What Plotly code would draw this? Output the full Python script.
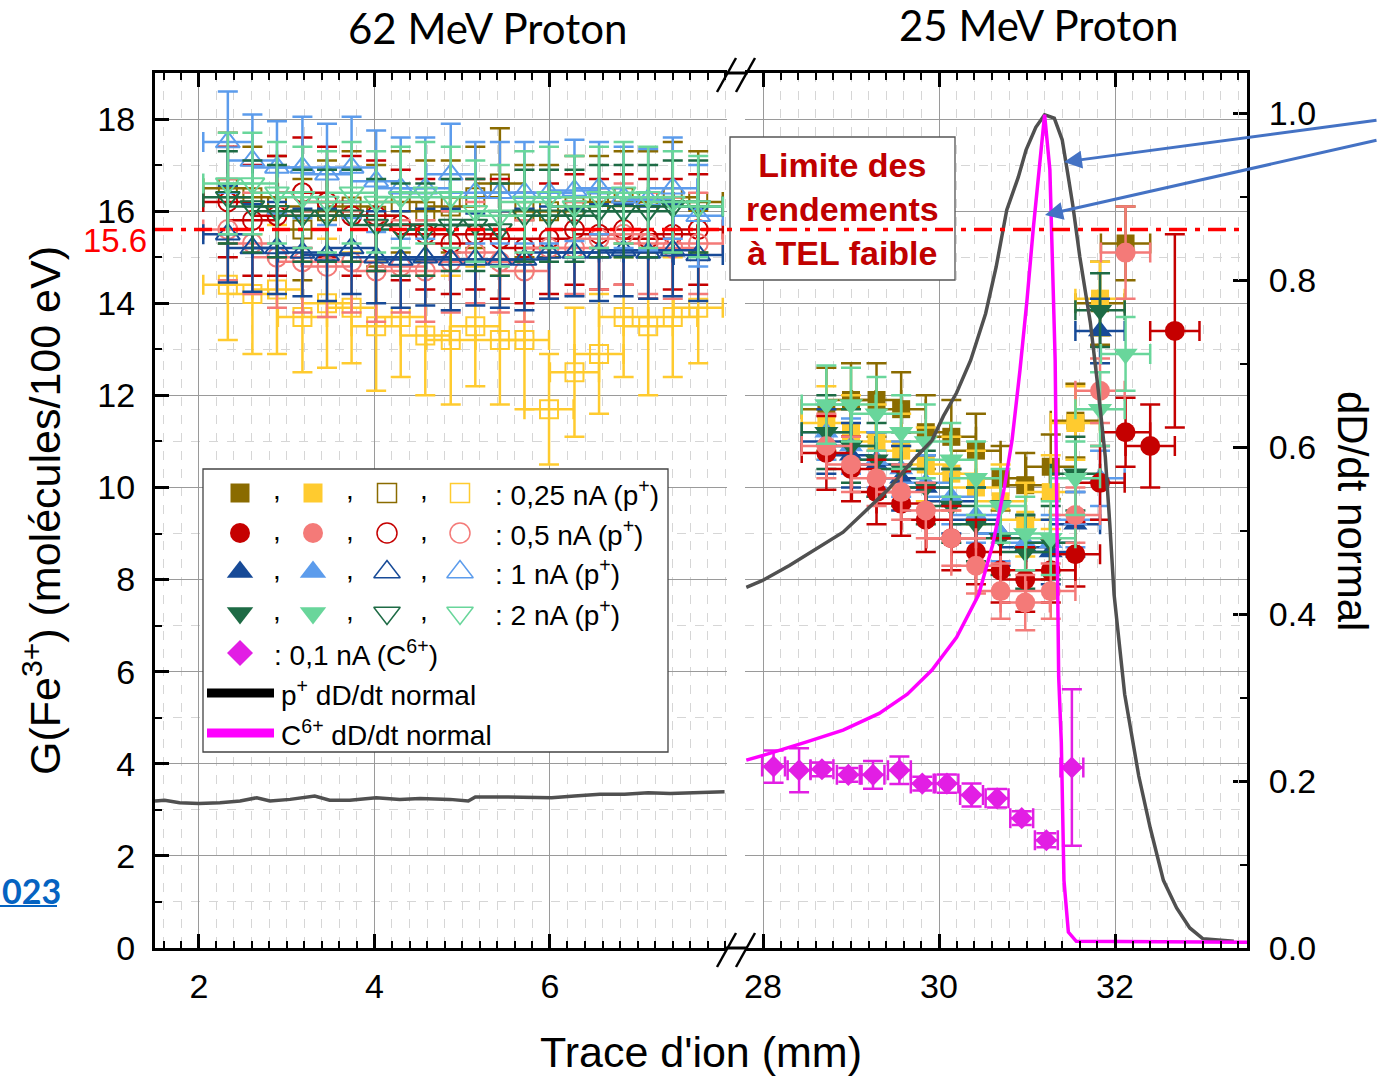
import plotly.graph_objects as go

# ------------------------------------------------------------------ data
# 62 MeV proton run (open markers) : track positions (mm)
X_L = [2.33, 2.61, 2.89, 3.18, 3.46, 3.74, 4.02, 4.30, 4.58, 4.87,
       5.15, 5.43, 5.71, 5.99, 6.28, 6.56, 6.84, 7.12, 7.40, 7.69]
G_L_025a = [16.5, 16.3, 16.1, 15.6, 16.0, 16.1, 15.9, 16.2, 16.0, 16.1,
            16.3, 16.6, 16.0, 16.0, 16.1, 16.2, 16.3, 16.2, 16.3, 16.2]
E_L_025a = [1.2, 1.1, 1.1, 1.1, 1.1, 1.2, 1.1, 1.1, 1.1, 1.0,
            1.1, 1.2, 1.0, 1.0, 1.1, 1.0, 1.0, 1.1, 1.2, 1.1]
G_L_025b = [14.4, 14.2, 14.3, 13.7, 14.0, 13.9, 13.5, 13.7, 13.3, 13.2,
            13.5, 13.2, 13.2, 11.7, 12.5, 12.9, 13.7, 13.5, 13.7, 13.9]
E_L_025b = [1.2, 1.3, 1.4, 1.2, 1.4, 1.2, 1.4, 1.3, 1.3, 1.4,
            1.3, 1.4, 1.5, 1.2, 1.4, 1.3, 1.3, 1.5, 1.3, 1.2]
G_L_05a = [16.2, 15.8, 15.9, 16.4, 16.2, 15.9, 15.9, 15.7, 15.5, 15.3,
           15.5, 15.4, 15.2, 15.4, 15.6, 15.5, 15.6, 15.4, 15.5, 15.6]
E_L_05a = [1.2, 1.2, 1.3, 1.2, 1.2, 1.3, 1.2, 1.2, 1.2, 1.1,
           1.2, 1.3, 1.2, 1.2, 1.2, 1.2, 1.2, 1.3, 1.2, 1.2]
G_L_05b = [15.6, 15.3, 15.0, 14.9, 14.8, 14.9, 14.7, 14.8, 14.7, 14.9,
           15.1, 14.9, 14.7, 15.2, 15.2, 15.4, 15.5, 15.3, 15.2, 15.3]
E_L_05b = [1.1, 1.1, 1.1, 1.1, 1.1, 1.1, 1.1, 1.0, 1.1, 1.1,
           1.1, 1.1, 1.1, 1.1, 1.0, 1.1, 1.1, 1.1, 1.1, 1.1]
G_L_1a = [15.5, 15.2, 15.2, 15.1, 15.05, 15.2, 15.0, 14.95, 15.0, 14.95,
          14.95, 14.95, 14.95, 15.1, 15.1, 15.1, 15.15, 15.1, 15.15, 15.05]
E_L_1a = [1.05, 0.95, 1.0, 0.95, 1.0, 1.0, 1.0, 1.05, 1.05, 1.1,
          1.0, 1.05, 1.1, 1.0, 0.95, 1.05, 1.0, 1.0, 1.0, 1.0]
G_L_1b = [17.5, 17.1, 16.95, 16.95, 16.8, 16.95, 16.65, 16.5, 16.5, 16.8,
          16.4, 16.4, 16.4, 16.4, 16.45, 16.5, 16.3, 16.25, 16.5, 15.9]
E_L_1b = [1.1, 1.0, 1.0, 1.1, 1.1, 1.1, 1.1, 1.1, 1.1, 1.1,
          1.1, 1.1, 1.1, 1.1, 1.1, 1.0, 1.1, 1.1, 1.1, 1.1]
G_L_2a = [16.3, 16.1, 16.0, 15.9, 15.9, 15.9, 15.7, 15.6, 15.6, 15.7,
          15.7, 15.6, 15.9, 15.9, 15.9, 16.0, 16.0, 16.0, 16.1, 16.1]
E_L_2a = [1.0, 1.0, 1.0, 1.0, 1.0, 1.0, 1.0, 1.0, 1.0, 1.0,
          1.0, 1.0, 1.0, 1.0, 1.0, 1.0, 1.0, 1.0, 1.0, 1.0]
G_L_2b = [16.6, 16.6, 16.4, 16.3, 16.2, 16.4, 16.2, 16.3, 16.4, 16.3,
          16.0, 15.9, 16.2, 16.3, 16.1, 16.3, 16.4, 16.3, 16.2, 16.1]
E_L_2b = [1.1, 1.1, 1.1, 1.1, 1.1, 1.1, 1.1, 1.1, 1.1, 1.1,
          1.1, 1.1, 1.1, 1.1, 1.1, 1.1, 1.1, 1.1, 1.1, 1.1]

# 25 MeV proton run (filled markers)
X_R = [28.72, 29.00, 29.29, 29.57, 29.85, 30.14, 30.42, 30.70, 30.98, 31.27,
       31.55, 31.83, 32.12, 32.40, 32.68]
G_R_025a = [11.7, 11.9, 11.9, 11.7, 11.2, 11.1, 10.8, 10.2, 10.05, 10.45, 11.45, 14.0, 15.3]
E_R_025a = [0.9, 0.8, 0.8, 0.8, 0.8, 0.8, 0.8, 0.7, 0.7, 0.7, 0.8, 0.9, 0.8]
G_R_025b = [11.4, 11.2, 11.0, 10.8, 10.5, 10.3, 10.0, 9.7, 9.3, 9.9, 11.4, 14.1]
E_R_025b = [0.8, 0.8, 0.8, 0.8, 0.8, 0.8, 0.8, 0.8, 0.8, 0.8, 0.8, 0.8]
G_R_05a = [10.75, 10.4, 9.9, 9.65, 9.3, 8.9, 8.6, 8.2, 8.0, 8.2, 8.55, 10.1, 11.2, 10.9, 13.4]
E_R_05a = [0.8, 0.7, 0.7, 0.7, 0.7, 0.7, 0.7, 0.7, 0.7, 0.7, 0.7, 0.8, 0.75, 0.9, 2.1]
G_R_05b = [10.9, 10.5, 10.2, 9.9, 9.5, 8.9, 8.3, 7.75, 7.5, 7.75, 9.4, 12.1, 15.1]
E_R_05b = [0.7, 0.6, 0.6, 0.6, 0.6, 0.6, 0.6, 0.6, 0.6, 0.6, 0.6, 0.7, 1.0]
G_R_1a = [11.0, 10.7, 10.5, 10.2, 10.0, 9.7, 9.3, 9.0, 8.7, 8.6, 9.2, 13.4]
E_R_1a = [0.7, 0.7, 0.7, 0.7, 0.7, 0.7, 0.7, 0.7, 0.7, 0.7, 0.7, 0.7]
G_R_1b = [11.2, 10.9, 10.6, 10.4, 10.1, 9.8, 9.4, 9.0, 8.8, 8.8, 9.3, 10.2]
E_R_1b = [0.6, 0.6, 0.6, 0.6, 0.6, 0.6, 0.6, 0.6, 0.6, 0.6, 0.6, 0.6]
G_R_2a = [11.2, 10.9, 10.6, 10.4, 10.0, 9.6, 9.2, 8.9, 8.6, 8.8, 10.3, 13.85]
E_R_2a = [0.8, 0.8, 0.8, 0.8, 0.8, 0.8, 0.8, 0.8, 0.8, 0.8, 0.8, 0.8]
G_R_2b = [11.8, 11.8, 11.6, 11.2, 11.0, 10.6, 10.2, 9.6, 9.0, 8.9, 10.2, 11.7, 12.9]
E_R_2b = [0.85, 0.8, 0.8, 0.8, 0.8, 0.8, 0.8, 0.8, 0.8, 0.8, 0.8, 0.8, 0.8]
XERR_P = 0.28

# carbon 0.1 nA (C6+)
X_C = [28.12, 28.41, 28.67, 28.97, 29.25, 29.55, 29.81, 30.09, 30.37, 30.66, 30.94, 31.22, 31.51]
G_C = [3.94, 3.86, 3.88, 3.76, 3.76, 3.86, 3.57, 3.57, 3.32, 3.25, 2.82, 2.34, 3.92]
E_C = [0.35, 0.48, 0.15, 0.15, 0.3, 0.3, 0.15, 0.2, 0.25, 0.2, 0.15, 0.15, 1.7]
XERR_C = 0.13

# normalised dose-rate profiles
XD_L = [1.50, 1.61, 1.78, 2.00, 2.24, 2.47, 2.66, 2.81, 3.04, 3.32, 3.49, 3.72, 4.02, 4.29,
        4.52, 4.86, 5.07, 5.15, 5.43, 5.77, 6.02, 6.28, 6.57, 6.85, 7.12, 7.37, 7.71, 7.99]
DD_L = [0.176, 0.177, 0.174, 0.173, 0.174, 0.176, 0.180, 0.176, 0.178, 0.182, 0.177, 0.177, 0.180, 0.178,
        0.179, 0.178, 0.176, 0.181, 0.181, 0.181, 0.180, 0.182, 0.184, 0.184, 0.186, 0.185, 0.186, 0.187]
XD_R = [27.81, 28.01, 28.30, 28.63, 28.91, 29.15, 29.43, 29.72, 29.92, 30.05,
        30.20, 30.36, 30.53, 30.65, 30.77, 30.90, 30.99, 31.10, 31.20, 31.31,
        31.40, 31.47, 31.52, 31.60, 31.72, 31.81, 31.89, 31.94, 31.99, 32.11,
        32.27, 32.40, 32.55, 32.70, 32.85, 33.00, 33.35]
DD_R = [0.432, 0.441, 0.458, 0.479, 0.498, 0.522, 0.550, 0.586, 0.608, 0.637,
        0.665, 0.704, 0.760, 0.816, 0.884, 0.923, 0.956, 0.983, 0.998, 0.994,
        0.968, 0.923, 0.890, 0.828, 0.749, 0.668, 0.588, 0.509, 0.423, 0.304,
        0.206, 0.144, 0.081, 0.048, 0.024, 0.011, 0.008]
XD_C = [27.81, 28.01, 28.47, 28.91, 29.32, 29.64, 29.92, 30.20, 30.45, 30.61,
        30.74, 30.83, 30.92, 31.00, 31.07, 31.14, 31.20, 31.26, 31.28, 31.32,
        31.33, 31.34, 31.36, 31.39, 31.42, 31.47, 31.56, 33.50]
DD_C = [0.225, 0.231, 0.246, 0.261, 0.281, 0.304, 0.333, 0.372, 0.423, 0.483,
        0.550, 0.608, 0.692, 0.776, 0.860, 0.938, 0.998, 0.932, 0.863, 0.704,
        0.608, 0.483, 0.325, 0.246, 0.081, 0.019, 0.008, 0.007]

LIMIT_G = 15.6
TOP_TITLES = ["62 MeV Proton", "25 MeV Proton"]
LEG_LABELS = [": 0,25 nA (p<sup>+</sup>)", ": 0,5 nA (p<sup>+</sup>)",
              ": 1 nA (p<sup>+</sup>)", ": 2 nA (p<sup>+</sup>)"]
LEG_C = ": 0,1 nA (C<sup>6+</sup>)"
LEG_LINES = ["p<sup>+</sup> dD/dt normal", "C<sup>6+</sup> dD/dt normal"]
BOX_TEXT = "Limite des<br>rendements<br>à TEL faible"

# ------------------------------------------------------------------ style
C_OLIVE, C_YELLOW = '#8A6B00', '#FFCB2F'
C_DRED, C_PINK = '#C50000', '#F47A78'
C_DBLUE, C_LBLUE = '#174A97', '#5C9CEC'
C_DGREEN, C_LGREEN = '#1E6B45', '#69D69B'
C_MAG, C_MAGLINE, C_GRAY = '#E21EE4', '#FF00FF', '#505050'
ARIAL = 'Liberation Sans, Arial, sans-serif'
CALIBRI = 'Lato, Carlito, Calibri, sans-serif'

W, H = 1378, 1076
L, R, T, B = 155, 1247, 73, 948
XL_RANGE = [1.5, 8.018]
XR_RANGE = [27.8, 33.5]
Y_RANGE = [0, 19]
Y2_RANGE = [0, 1.048]


def xp(px):
    return (px - L) / (R - L)


def yp(py):
    return (B - py) / (B - T)


D1 = xp(727)
D2 = xp(745.4)


def xl(px):  # pixel -> left-panel data x
    return XL_RANGE[0] + (px - L) * (XL_RANGE[1] - XL_RANGE[0]) / ((R - L) * D1)


def yl(py):  # pixel -> left y data
    return (B - py) * (Y_RANGE[1] - Y_RANGE[0]) / (B - T)


fig = go.Figure()


def add_series(x, y, ey, ex, symbol, color, xaxis, size):
    n = len(y)
    is_open = symbol.endswith('open')
    fig.add_trace(go.Scatter(
        x=x[:n], y=y, mode='markers', xaxis=xaxis, yaxis='y',
        marker=dict(symbol=symbol, size=size, color=color,
                    line=dict(color=color, width=2 if is_open else 0)),
        error_y=dict(type='data', array=ey, color=color, thickness=2.5, width=10),
        error_x=dict(type='data', array=[ex] * n, color=color, thickness=2.5, width=10),
        showlegend=False, hoverinfo='skip'))


left_series = [
    (G_L_025a, E_L_025a, 'square-open', C_OLIVE, 18),
    (G_L_025b, E_L_025b, 'square-open', C_YELLOW, 18),
    (G_L_05a, E_L_05a, 'circle-open', C_DRED, 19),
    (G_L_05b, E_L_05b, 'circle-open', C_PINK, 19),
    (G_L_1a, E_L_1a, 'triangle-up-open', C_DBLUE, 21),
    (G_L_1b, E_L_1b, 'triangle-up-open', C_LBLUE, 21),
    (G_L_2a, E_L_2a, 'triangle-down-open', C_DGREEN, 21),
    (G_L_2b, E_L_2b, 'triangle-down-open', C_LGREEN, 21),
]
for y, ey, sym, col, sz in left_series:
    add_series(X_L, y, ey, XERR_P, sym, col, 'x', sz)

right_series = [
    (G_R_025a, E_R_025a, 'square', C_OLIVE, 18),
    (G_R_025b, E_R_025b, 'square', C_YELLOW, 18),
    (G_R_1a, E_R_1a, 'triangle-up', C_DBLUE, 21),
    (G_R_1b, E_R_1b, 'triangle-up', C_LBLUE, 21),
    (G_R_2a, E_R_2a, 'triangle-down', C_DGREEN, 21),
    (G_R_05a, E_R_05a, 'circle', C_DRED, 20),
    (G_R_05b, E_R_05b, 'circle', C_PINK, 20),
    (G_R_2b, E_R_2b, 'triangle-down', C_LGREEN, 21),
]
for y, ey, sym, col, sz in right_series:
    add_series(X_R, y, ey, XERR_P, sym, col, 'x2', sz)

add_series(X_C, G_C, E_C, XERR_C, 'diamond', C_MAG, 'x2', 17)

# dose-rate curves on the right axis
fig.add_trace(go.Scatter(x=XD_L, y=DD_L, mode='lines', xaxis='x', yaxis='y2',
                         line=dict(color=C_GRAY, width=3.5), showlegend=False, hoverinfo='skip'))
fig.add_trace(go.Scatter(x=XD_R, y=DD_R, mode='lines', xaxis='x2', yaxis='y2',
                         line=dict(color=C_GRAY, width=3.5), showlegend=False, hoverinfo='skip'))
fig.add_trace(go.Scatter(x=XD_C, y=DD_C, mode='lines', xaxis='x2', yaxis='y2',
                         line=dict(color=C_MAGLINE, width=3.5), showlegend=False, hoverinfo='skip'))

# legend symbols (drawn in left-panel coordinates)
LEG_COLS_PX = [240, 313, 387, 460]
LEG_ROWS_PX = [493, 533, 572, 613, 653, 693, 733]
leg_rows = [
    (['square', 'square', 'square-open', 'square-open'], [C_OLIVE, C_YELLOW, C_OLIVE, C_YELLOW], 19),
    (['circle', 'circle', 'circle-open', 'circle-open'], [C_DRED, C_PINK, C_DRED, C_PINK], 20),
    (['triangle-up', 'triangle-up', 'triangle-up-open', 'triangle-up-open'], [C_DBLUE, C_LBLUE, C_DBLUE, C_LBLUE], 23),
    (['triangle-down', 'triangle-down', 'triangle-down-open', 'triangle-down-open'], [C_DGREEN, C_LGREEN, C_DGREEN, C_LGREEN], 23),
]
for r_i, (syms, cols, sz) in enumerate(leg_rows):
    fig.add_trace(go.Scatter(
        x=[xl(p) for p in LEG_COLS_PX], y=[yl(LEG_ROWS_PX[r_i])] * 4, mode='markers',
        xaxis='x', yaxis='y',
        marker=dict(symbol=syms, size=sz, color=cols,
                    line=dict(color=cols, width=[0, 0, 1.5, 1.5])),
        showlegend=False, hoverinfo='skip'))
fig.add_trace(go.Scatter(
    x=[xl(LEG_COLS_PX[0])], y=[yl(LEG_ROWS_PX[4])], mode='markers', xaxis='x', yaxis='y',
    marker=dict(symbol='diamond', size=20, color=C_MAG), showlegend=False, hoverinfo='skip'))

# ------------------------------------------------------------------ shapes
shapes = []
# legend background box (above grid, below traces)
shapes.append(dict(type='rect', xref='x', yref='y', x0=xl(203), x1=xl(668), y0=yl(752), y1=yl(469),
                   fillcolor='white', line=dict(color='#444', width=1.3), layer='between'))
# text box
shapes.append(dict(type='rect', xref='paper', yref='paper', x0=xp(730), x1=xp(955), y0=yp(280), y1=yp(137),
                   fillcolor='white', line=dict(color='#555', width=1.3), layer='above'))
# low-LET limit
shapes.append(dict(type='line', xref='paper', yref='y', x0=0, x1=1, y0=LIMIT_G, y1=LIMIT_G,
                   line=dict(color='#FF0000', width=3.5, dash='18px,8px,5px,8px'), layer='above'))
# legend lines
for i, col in enumerate(['black', C_MAGLINE]):
    shapes.append(dict(type='line', xref='paper', yref='paper', x0=xp(207), x1=xp(274),
                       y0=yp(LEG_ROWS_PX[5 + i]), y1=yp(LEG_ROWS_PX[5 + i]),
                       line=dict(color=col, width=9), layer='above'))
# axis line across the break
for yy in (0, 1):
    shapes.append(dict(type='line', xref='paper', yref='paper', x0=D1 - 0.002, x1=D2 + 0.002, y0=yy, y1=yy,
                       line=dict(color='black', width=3), layer='above'))
# break marks
for base in (B, T):
    for dx in (0, 19):
        shapes.append(dict(type='line', xref='paper', yref='paper',
                           x0=xp(717 + dx), y0=yp(base + 19), x1=xp(736 + dx), y1=yp(base - 15),
                           line=dict(color='black', width=2.5), layer='above'))
# underline of the cropped link text
shapes.append(dict(type='line', xref='paper', yref='paper', x0=xp(0), x1=xp(57), y0=yp(906), y1=yp(906),
                   line=dict(color='#0563C1', width=2), layer='above'))

# ------------------------------------------------------------------ annotations
ann = []
ann.append(dict(text=TOP_TITLES[0], x=xp(487), y=yp(28), xref='paper', yref='paper', showarrow=False,
                font=dict(family=CALIBRI, size=42, color='black'), xanchor='center', yanchor='middle'))
ann.append(dict(text=TOP_TITLES[1], x=xp(1038), y=yp(25), xref='paper', yref='paper', showarrow=False,
                font=dict(family=CALIBRI, size=42, color='black'), xanchor='center', yanchor='middle'))
ann.append(dict(text="Trace d'ion (mm)", x=xp(701), y=yp(1052), xref='paper', yref='paper', showarrow=False,
                font=dict(family=ARIAL, size=43, color='black'), xanchor='center', yanchor='middle'))
ann.append(dict(text="G(Fe<sup>3+</sup>) (molécules/100 eV)", x=xp(42), y=yp(511), xref='paper', yref='paper',
                showarrow=False, textangle=-90, font=dict(family=ARIAL, size=43, color='black'),
                xanchor='center', yanchor='middle'))
ann.append(dict(text="dD/dt normal", x=xp(1353), y=yp(511), xref='paper', yref='paper',
                showarrow=False, textangle=90, font=dict(family=ARIAL, size=42, color='black'),
                xanchor='center', yanchor='middle'))
ann.append(dict(text=str(LIMIT_G), x=xp(149), y=yp(241), xref='paper', yref='paper', showarrow=False,
                font=dict(family=ARIAL, size=33, color='#FF0000'), xanchor='right', yanchor='middle'))
ann.append(dict(text="<b>023</b>", x=xp(0), y=yp(890), xref='paper', yref='paper', showarrow=False,
                font=dict(family=CALIBRI, size=34, color='#0563C1'), xanchor='left', yanchor='middle'))
ann.append(dict(text="<b>" + BOX_TEXT + "</b>", x=xp(842), y=yp(209), xref='paper', yref='paper',
                showarrow=False, font=dict(family=ARIAL, size=34, color='#C00000'),
                xanchor='center', yanchor='middle', align='center'))
# legend texts
for i, lab in enumerate(LEG_LABELS):
    ann.append(dict(text=lab, x=xp(493), y=yp(LEG_ROWS_PX[i]), xref='paper', yref='paper', showarrow=False,
                    font=dict(family=ARIAL, size=28, color='black'), xanchor='left', yanchor='middle'))
    for cx in (277, 350, 424):
        ann.append(dict(text=",", x=xp(cx), y=yp(LEG_ROWS_PX[i] - 3), xref='paper', yref='paper',
                        showarrow=False, font=dict(family=ARIAL, size=28, color='black'),
                        xanchor='center', yanchor='middle'))
ann.append(dict(text=LEG_C, x=xp(272), y=yp(LEG_ROWS_PX[4]), xref='paper', yref='paper', showarrow=False,
                font=dict(family=ARIAL, size=28, color='black'), xanchor='left', yanchor='middle'))
for i, lab in enumerate(LEG_LINES):
    ann.append(dict(text=lab, x=xp(279), y=yp(LEG_ROWS_PX[5 + i]), xref='paper', yref='paper', showarrow=False,
                    font=dict(family=ARIAL, size=28, color='black'), xanchor='left', yanchor='middle'))
# arrows pointing at the two curves
for tip, tail in (((1064, 162), (1378, 120)), ((1045, 215), (1378, 140))):
    ann.append(dict(text='', x=xp(tip[0]), y=yp(tip[1]), xref='paper', yref='paper',
                    showarrow=True, ax=tail[0] - tip[0], ay=tail[1] - tip[1],
                    arrowhead=2, arrowsize=1.2, arrowwidth=3, arrowcolor='#4472C4', standoff=0))

# ------------------------------------------------------------------ axes
tickfont = dict(family=ARIAL, size=34, color='black')
common_x = dict(ticks='inside', ticklen=14, tickwidth=2.5, tickcolor='black', showline=True, linewidth=3,
                linecolor='black', mirror='ticks', showgrid=True, gridcolor='#9a9a9a', gridwidth=1.2,
                zeroline=False, tickfont=tickfont, ticklabelstandoff=6,
                minor=dict(tickmode='linear', tick0=0, dtick=0.2, ticks='inside', ticklen=7, tickwidth=2,
                           tickcolor='black', showgrid=True, gridcolor='#d6d6d6', griddash='dash', gridwidth=1))

fig.update_layout(
    width=W, height=H, margin=dict(l=L, r=W - R, t=T, b=H - B),
    paper_bgcolor='white', plot_bgcolor='white', showlegend=False,
    font=dict(family=ARIAL, color='black'),
    xaxis=dict(domain=[0, D1], range=XL_RANGE, anchor='y', tickmode='array', tickvals=[2, 4, 6], **common_x),
    xaxis2=dict(domain=[D2, 1], range=XR_RANGE, anchor='y', tickmode='array', tickvals=[28, 30, 32], **common_x),
    yaxis=dict(domain=[0, 1], range=Y_RANGE, anchor='x', tickmode='linear', tick0=0, dtick=2,
               ticks='inside', ticklen=14, tickwidth=2.5, tickcolor='black', showline=True, linewidth=3,
               linecolor='black', mirror=False, showgrid=True, gridcolor='#9a9a9a', gridwidth=1.2,
               zeroline=False, tickfont=tickfont, ticklabelstandoff=10,
               minor=dict(tickmode='linear', tick0=0, dtick=1, ticks='inside', ticklen=7, tickwidth=2,
                          tickcolor='black', showgrid=True, gridcolor='#d6d6d6', griddash='dash', gridwidth=1)),
    yaxis2=dict(range=Y2_RANGE, overlaying='y', side='right', anchor='x2', tickmode='linear', tick0=0,
                dtick=0.2, tickformat='.1f', ticks='inside', ticklen=14, tickwidth=2.5, tickcolor='black',
                showline=True, linewidth=3, linecolor='black', showgrid=False, zeroline=False,
                tickfont=tickfont, ticklabelstandoff=12,
                minor=dict(tickmode='linear', tick0=0, dtick=0.1, ticks='inside', ticklen=7, tickwidth=2,
                           tickcolor='black', showgrid=False)),
    shapes=shapes, annotations=ann,
)

fig.write_html("out.html", config={'displayModeBar': False},
               post_script="document.body.style.margin='0px';")
